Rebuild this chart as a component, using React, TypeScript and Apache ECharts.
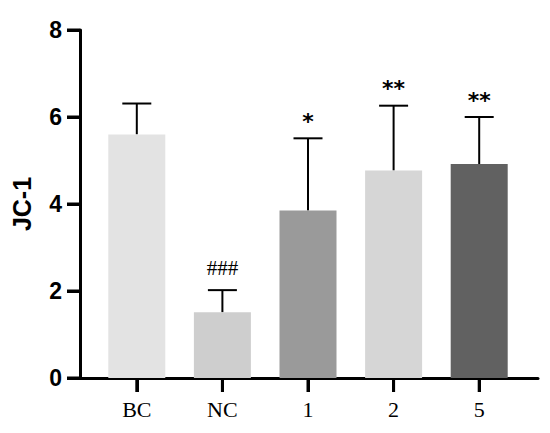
import React, { useEffect, useRef } from "react";
import * as echarts from "echarts";

const categories = ["BC", "NC", "1", "2", "5"];
const means = [5.6, 1.51, 3.85, 4.77, 4.92];
const upperErrors = [6.31, 2.02, 5.51, 6.26, 6.0];
const annotations = ["", "###", "*", "**", "**"];
const barColors = ["#e3e3e3", "#cecece", "#9a9a9a", "#d6d6d6", "#616161"];
const yTickValues = [0, 2, 4, 6, 8];
const yTicks = { min: 0, max: 8, interval: 2 };

export default function App() {
  const ref = useRef<HTMLDivElement>(null);
  useEffect(() => {
    document.body.style.margin = "0";
    if (!ref.current) return;
    const chart = echarts.init(ref.current, undefined, { renderer: "svg" });
    const errData = categories.map((c, i) => [i, means[i], upperErrors[i]]);
    chart.setOption({
      animation: false,
      backgroundColor: "#ffffff",
      grid: [
        { left: 94, right: 28, top: 30, bottom: 55 },
        { left: 80, right: 12, top: 30, bottom: 55 },
      ],
      xAxis: [
        {
          type: "category",
          gridIndex: 0,
          data: categories,
          axisLine: { show: true, lineStyle: { color: "rgba(0,0,0,0)", width: 1 } },
          axisTick: {
            show: true,
            alignWithLabel: true,
            inside: false,
            length: 14,
            lineStyle: { color: "#000000", width: 3 },
          },
          axisLabel: {
            color: "#000",
            fontFamily: "Liberation Serif",
            fontSize: 22,
            margin: 20,
          },
          splitLine: { show: false },
        },
        {
          type: "value",
          gridIndex: 1,
          min: 0,
          max: 1,
          axisLine: { show: true, lineStyle: { color: "#000", width: 3 } },
          axisTick: { show: false },
          axisLabel: { show: false },
          splitLine: { show: false },
        },
      ],
      yAxis: [
        {
          type: "value",
          gridIndex: 0,
          min: yTicks.min,
          max: yTicks.max,
          show: false,
        },
        {
          type: "value",
          gridIndex: 1,
          min: yTicks.min,
          max: yTicks.max,
          interval: yTicks.interval,
          name: "JC-1",
          nameLocation: "middle",
          nameRotate: 90,
          nameGap: 46,
          nameTextStyle: {
            color: "#000",
            fontFamily: "Liberation Sans",
            fontWeight: "bold",
            fontSize: 25,
          },
          axisLine: { show: true, lineStyle: { color: "#000", width: 3 } },
          axisTick: {
            show: true,
            inside: false,
            length: 13,
            lineStyle: { color: "#000000", width: 3 },
          },
          axisLabel: {
            color: "#000",
            fontFamily: "Liberation Sans",
            fontWeight: "bold",
            fontSize: 23,
            margin: 18,
          },
          splitLine: { show: false },
        },
      ],
      series: [
        {
          type: "bar",
          xAxisIndex: 0,
          yAxisIndex: 0,
          barWidth: 57,
          data: means.map((v, i) => ({ value: v, itemStyle: { color: barColors[i] } })),
        },
        {
          type: "custom",
          xAxisIndex: 0,
          yAxisIndex: 0,
          data: errData,
          renderItem: (params: any, api: any) => {
            const x = api.value(0);
            const low = api.coord([x, api.value(1)]);
            const high = api.coord([x, api.value(2)]);
            const label = annotations[params.dataIndex];
            const isStar = label.indexOf("*") >= 0;
            const half = 14.5;
            return {
              type: "group",
              children: [
                {
                  type: "line",
                  shape: { x1: low[0], y1: low[1], x2: high[0], y2: high[1] },
                  style: { stroke: "#000", lineWidth: 2 },
                },
                {
                  type: "line",
                  shape: { x1: high[0] - half, y1: high[1], x2: high[0] + half, y2: high[1] },
                  style: { stroke: "#000", lineWidth: 2 },
                },
                {
                  type: "text",
                  x: high[0],
                  y: high[1] - (isStar ? 17 : 22),
                  style: {
                    text: label,
                    fill: "#000",
                    fontFamily: isStar ? "DejaVu Sans" : "Liberation Serif",
                    fontWeight: isStar ? "bold" : "normal",
                    fontSize: isStar ? 22 : 21,
                    align: "center",
                    verticalAlign: "middle",
                  },
                },
              ],
            };
          },
        },
      ],
    });

    const tickEls: any[] = [];
    yTickValues.forEach((v) => {
      const p = chart.convertToPixel({ xAxisIndex: 1, yAxisIndex: 1 }, [0, v]) as number[];
      if (p && isFinite(p[0]) && isFinite(p[1])) {
        tickEls.push({
          type: "rect",
          z: 100,
          shape: { x: p[0] - 13, y: p[1] - 1.5, width: 13, height: 3 },
          style: { fill: "#000000" },
        });
      }
    });
    categories.forEach((c, i) => {
      const p = chart.convertToPixel({ xAxisIndex: 0, yAxisIndex: 0 }, [i, 0]) as number[];
      if (p && isFinite(p[0]) && isFinite(p[1])) {
        tickEls.push({
          type: "rect",
          z: 100,
          shape: { x: p[0] - 1.5, y: p[1], width: 3, height: 14 },
          style: { fill: "#000000" },
        });
      }
    });
    chart.setOption({ graphic: { elements: tickEls } });

    return () => chart.dispose();
  }, []);
  return <div ref={ref} style={{ width: 550, height: 433 }} />;
}
